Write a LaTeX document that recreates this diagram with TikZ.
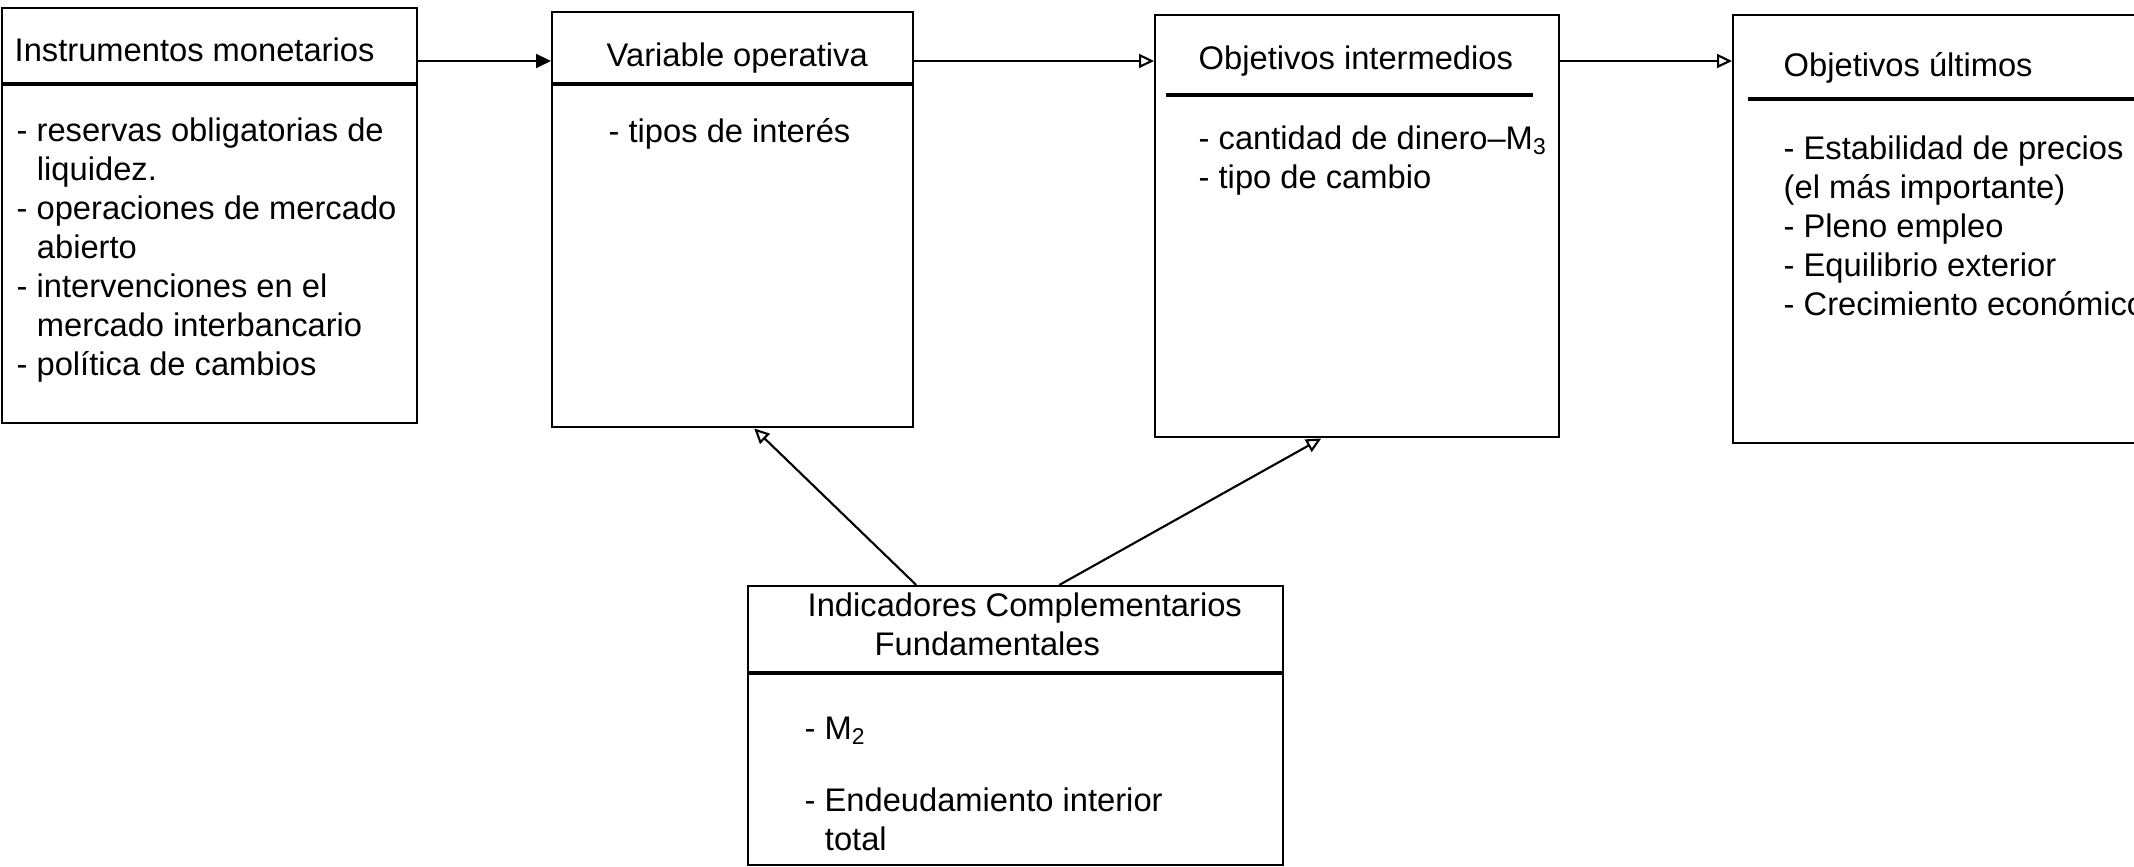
\documentclass[tikz,border=0pt]{standalone}
\usepackage{fontspec}
\setmainfont{Liberation Sans}
\usetikzlibrary{arrows.meta,positioning}

\newcommand{\contline}{\hspace*{0.62em}}

\tikzset{
  frame/.style={rectangle, draw, line width=0.7pt, anchor=north west, inner sep=0pt},
  head/.style={anchor=west, inner sep=0pt},
  body/.style={anchor=north west, inner sep=0pt, align=left},
  sep/.style={line width=1pt},
  arr/.style={-{Triangle[open, length=1.5mm, width=1.4mm]}, line width=0.6pt},
  arrfill/.style={-{Triangle[length=1.5mm, width=1.4mm]}, line width=0.6pt}
}

\begin{document}
\begin{tikzpicture}[every node/.style={font=\fontsize{9.3}{11.1}\selectfont}]
    \clip (0,0) rectangle (21.34,-8.67);

    % frames
    \node (instr) [frame, minimum width=4.15cm, minimum height=4.15cm] at (0.01,-0.07) {};
    \node (oper) [frame, minimum width=3.61cm, minimum height=4.15cm] at (5.51,-0.11) {};
    \node (inter) [frame, minimum width=4.04cm, minimum height=4.22cm] at (11.54,-0.14) {};
    \node (final) [frame, minimum width=4.40cm, minimum height=4.28cm] at (17.32,-0.14) {};
    \node (ind) [frame, minimum width=5.35cm, minimum height=2.79cm] at (7.47,-5.85) {};

    % header rules
    \draw[sep] ([yshift=-0.77cm]instr.north west) -- ([yshift=-0.77cm]instr.north east);
    \draw[sep] ([yshift=-0.73cm]oper.north west) -- ([yshift=-0.73cm]oper.north east);
    \draw[sep] ([xshift=0.12cm, yshift=-0.81cm]inter.north west) -- ([xshift=-0.27cm, yshift=-0.81cm]inter.north east);
    \draw[sep] ([xshift=0.16cm, yshift=-0.85cm]final.north west) -- ([yshift=-0.85cm]final.north east);
    \draw[sep] ([yshift=-0.88cm]ind.north west) -- ([yshift=-0.88cm]ind.north east);

    % headers
    \node (instrhead) [head] at (0.14,-0.50) {Instrumentos monetarios};
    \node (operhead) [head] at (6.06,-0.58) {Variable operativa};
    \node (interhead) [head] at (11.98,-0.61) {Objetivos intermedios};
    \node (finalhead) [head] at (17.83,-0.68) {Objetivos últimos};
    \node (indhead) [body] at (8.07,-5.92) {Indicadores Complementarios\\ \hspace*{0.67cm}Fundamentales};

    % lists
    \node (instrlist) [body] at (0.16,-1.17) {- reservas obligatorias de\\ \contline liquidez.\\
        - operaciones de mercado\\ \contline abierto\\
        - intervenciones en el\\ \contline mercado interbancario\\
        - política de cambios};
    \node (operlist) [body] at (6.08,-1.18) {- tipos de interés};
    \node (interlist) [body] at (11.98,-1.25) {- cantidad de dinero–M\textsubscript{3}\\ - tipo de cambio};
    \node (finallist) [body] at (17.83,-1.35) {- Estabilidad de precios\\ (el más importante)\\
        - Pleno empleo\\ - Equilibrio exterior\\ - Crecimiento económico};
    \node (indlist) [body] at (8.04,-7.16) {- M\textsubscript{2}\\[3.3mm] - Endeudamiento interior\\ \contline total};

    % connectors
    \coordinate (row) at (0,-0.61);
    \draw[arrfill] (instr.east |- row) -- (oper.west |- row);
    \draw[arr] (oper.east |- row) -- (inter.west |- row);
    \draw[arr] (inter.east |- row) -- (final.west |- row);
    \draw[arr] ([xshift=-0.995cm]ind.north) -- ([xshift=0.215cm]oper.south);
    \draw[arr] ([xshift=0.435cm]ind.north) -- ([xshift=-0.36cm]inter.south);
\end{tikzpicture}
\end{document}
